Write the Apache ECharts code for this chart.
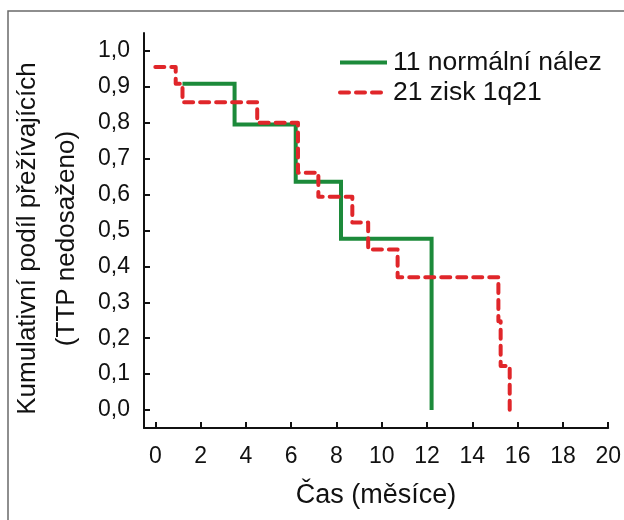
<!DOCTYPE html>
<html>
<head>
<meta charset="utf-8">
<script src="https://cdn.jsdelivr.net/npm/echarts@6/dist/echarts.min.js"></script>
<style>
html,body{margin:0;padding:0;background:#fff;}
#c{width:624px;height:520px;}
</style>
</head>
<body>
<div id="c"></div>
<script>
// Series names
const seriesNames = ['11 normální nález', '21 zisk 1q21'];
// Kaplan-Meier step points (time in months, cumulative proportion); drawn with step:'end'
const normalX = [1.2, 3.5, 6.2, 8.2, 12.2];
const normalY = [0.909, 0.795, 0.636, 0.477, 0.0];
const gainX = [0.0, 0.9, 1.2, 4.5, 6.3, 7.2, 8.7, 9.4, 10.7, 15.15, 15.25, 15.65];
const gainY = [0.955, 0.909, 0.857, 0.800, 0.661, 0.594, 0.522, 0.447, 0.370, 0.247, 0.123, 0.0];
// Tick labels
const xTicks = [0, 2, 4, 6, 8, 10, 12, 14, 16, 18, 20];
const yTicks = [0.0, 0.1, 0.2, 0.3, 0.4, 0.5, 0.6, 0.7, 0.8, 0.9, 1.0];
const xTitle = 'Čas (měsíce)';
const yTitle = 'Kumulativní podíl přežívajících\n(TTP nedosaženo)';

const zip = (xs, ys) => xs.map((x, i) => [x, ys[i]]);
const FONT = '"Liberation Sans", Arial, sans-serif';
const GREEN = '#1c8a3a';
const RED = '#e0262a';

const chart = echarts.init(document.getElementById('c'), null, {renderer: 'canvas'});
chart.setOption({
  backgroundColor: '#ffffff',
  animation: false,
  graphic: [{
    type: 'rect', silent: true, z: -10,
    shape: {x: 8, y: 11, width: 700, height: 600},
    style: {fill: 'none', stroke: '#6a6a6a', lineWidth: 1.5}
  }],
  grid: {left: 142, right: 13, top: 33, bottom: 92, containLabel: false},
  legend: {
    orient: 'vertical', left: 333, top: 44, itemGap: 3,
    itemWidth: 47, itemHeight: 18,
    data: seriesNames,
    itemStyle: {opacity: 0},
    lineStyle: {width: 4},
    textStyle: {fontFamily: FONT, fontSize: 26.5, color: '#111', padding: [0, 0, 0, 1]}
  },
  xAxis: {
    type: 'value', min: -0.5, max: 20,
    axisLine: {show: true, onZero: false, lineStyle: {color: '#111', width: 2}},
    axisTick: {show: true, inside: true, length: 6, customValues: xTicks, lineStyle: {color: '#111', width: 2}},
    axisLabel: {customValues: xTicks, margin: 17, fontFamily: FONT, fontSize: 23, color: '#111', formatter: v => String(v)},
    splitLine: {show: false},
    name: xTitle, nameLocation: 'middle', nameGap: 54,
    nameTextStyle: {fontFamily: FONT, fontSize: 27, color: '#111'}
  },
  yAxis: {
    type: 'value', min: -0.05, max: 1.05,
    axisLine: {show: true, onZero: false, lineStyle: {color: '#111', width: 2}},
    axisTick: {show: true, inside: true, length: 6, customValues: yTicks, lineStyle: {color: '#111', width: 2}},
    axisLabel: {customValues: yTicks, margin: 14, fontFamily: FONT, fontSize: 23, color: '#111', formatter: v => v.toFixed(1).replace('.', ',')},
    splitLine: {show: false},
    name: yTitle, nameLocation: 'middle', nameGap: 58, nameRotate: 90,
    nameTextStyle: {fontFamily: FONT, fontSize: 26, color: '#111', lineHeight: 39, padding: [0, 16, 0, 0]}
  },
  series: [
    {
      name: seriesNames[0], type: 'line', step: 'end', symbol: 'none', z: 2,
      data: zip(normalX, normalY),
      lineStyle: {color: GREEN, width: 4, cap: 'butt', join: 'miter'},
      itemStyle: {color: GREEN}
    },
    {
      name: seriesNames[1], type: 'line', step: 'end', symbol: 'none', z: 3,
      data: zip(gainX, gainY),
      lineStyle: {color: RED, width: 4, type: [9, 7], cap: 'round', join: 'round'},
      itemStyle: {color: RED}
    }
  ]
});
</script>
</body>
</html>
